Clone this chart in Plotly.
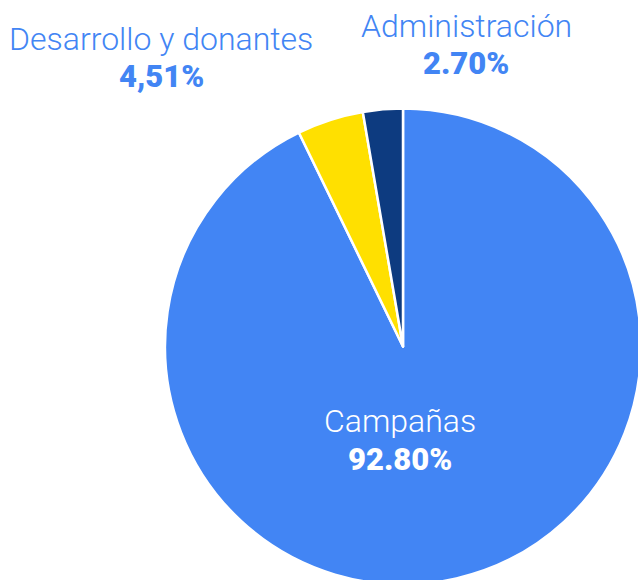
import plotly.graph_objects as go

categories = ["Campañas", "Desarrollo y donantes", "Administración"]
values = [92.80, 4.51, 2.70]
pct_labels = ["92.80%", "4,51%", "2.70%"]
colors = ["#4285F4", "#FFE000", "#0D3B80"]

W, H = 700, 700

fig = go.Figure(go.Pie(
    labels=categories,
    values=values,
    sort=False,
    direction="clockwise",
    rotation=0,
    marker=dict(colors=colors, line=dict(color="white", width=2.5)),
    textinfo="none",
    hoverinfo="label+percent",
    showlegend=False,
    domain=dict(x=[165 / W, 641 / W], y=[1 - 585 / H, 1 - 108 / H]),
))

# label positions: (x center, name center y, pct center y, color)
label_pos = {
    "Administración": (466, 26, 64, "#4285F4"),
    "Desarrollo y donantes": (161, 38.5, 77, "#4285F4"),
    "Campañas": (400, 421.5, 459.5, "white"),
}
for cat, pct in zip(categories, pct_labels):
    px, ny, py, col = label_pos[cat]
    fig.add_annotation(
        x=px / W, y=1 - ny / H, xref="paper", yref="paper",
        xanchor="center", yanchor="middle", showarrow=False,
        text=cat,
        font=dict(family="Roboto", size=32, color=col, weight=300),
    )
    fig.add_annotation(
        x=px / W, y=1 - py / H, xref="paper", yref="paper",
        xanchor="center", yanchor="middle", showarrow=False,
        text=pct,
        font=dict(family="Roboto", size=31, color=col, weight=900),
    )

fig.update_layout(
    width=W, height=H,
    margin=dict(l=0, r=0, t=0, b=0),
    paper_bgcolor="white",
    plot_bgcolor="white",
)

fig.write_html(
    "out.html",
    post_script="document.body.style.margin='0';document.body.style.overflow='hidden';document.documentElement.style.overflow='hidden';",
)
